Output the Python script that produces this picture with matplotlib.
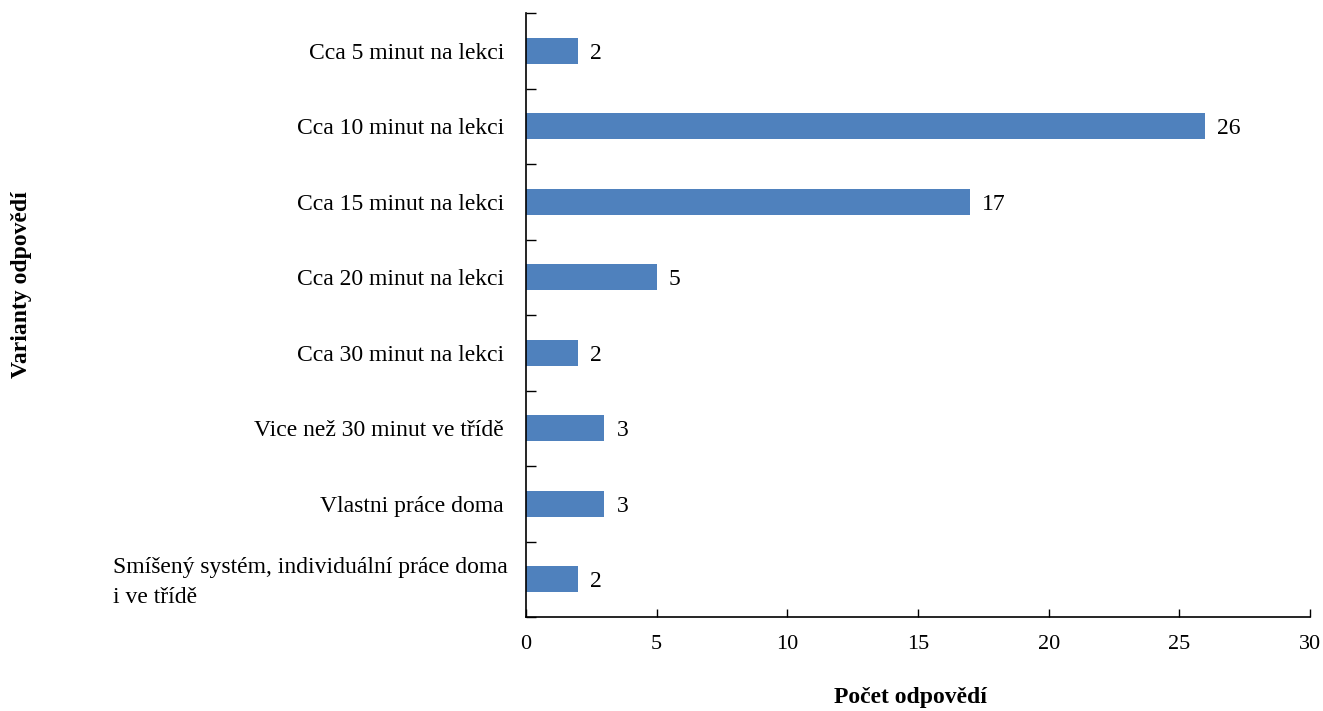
import numpy as np
import matplotlib.pyplot as plt
import matplotlib.transforms as mtransforms

plt.rcParams['font.family'] = ['Liberation Serif', 'DejaVu Serif']

categories = [
    'Cca 5 minut na lekci',
    'Cca 10 minut na lekci',
    'Cca 15 minut na lekci',
    'Cca 20 minut na lekci',
    'Cca 30 minut na lekci',
    'Vice než 30 minut ve třídě',
    'Vlastni práce doma',
    'Smíšený systém, individuální práce doma\ni ve třídě',
]
counts = [2, 26, 17, 5, 2, 3, 3, 2]

W, H = 1323, 711
fig = plt.figure(figsize=(W / 100, H / 100), dpi=100)
ax = fig.add_axes([526 / W, 1 - 617 / H, 784 / W, 604 / H])

y = np.arange(len(categories))
bars = ax.barh(y, counts, height=0.35, color='#4F81BD')
ax.set_ylim(len(categories) - 0.5, -0.5)
ax.set_xlim(0, 30)
ax.set_xticks(range(0, 31, 5))

# category labels as text, boundary ticks on the axis
ax.set_yticks(np.arange(-0.5, len(categories), 1))
ax.set_yticklabels([])
lab_tr = ax.get_yaxis_transform()
for i, lab in enumerate(categories):
    if '\n' in lab:
        ax.text(-18 / 784, i + 0.04, lab, transform=lab_tr, ha='right', va='center',
                fontsize=17, multialignment='left', linespacing=1.55)
    else:
        ax.text(-22 / 784, i, lab, transform=lab_tr, ha='right', va='center_baseline',
                fontsize=17)

off = mtransforms.offset_copy(ax.transData, fig=fig, x=12, y=0, units='dots')
for b, v in zip(bars, counts):
    ax.text(v, b.get_y() + b.get_height() / 2, str(v), transform=off,
            ha='left', va='center_baseline', fontsize=17)

for s in ['top', 'right']:
    ax.spines[s].set_visible(False)
for s in ['left', 'bottom']:
    ax.spines[s].set_linewidth(1.2)

ax.tick_params(axis='x', direction='in', length=6, width=1, labelsize=16, pad=13)
ax.tick_params(axis='y', direction='in', length=7, width=1)

fig.text(910 / W, 1 - 698 / H, 'Počet odpovědí', ha='center', va='center',
         fontsize=17, fontweight='bold')
fig.text(22 / W, 1 - 285 / H, 'Varianty odpovědí', rotation=90,
         ha='center', va='center', fontsize=17, fontweight='bold')

fig.savefig('out.png', dpi=100)
